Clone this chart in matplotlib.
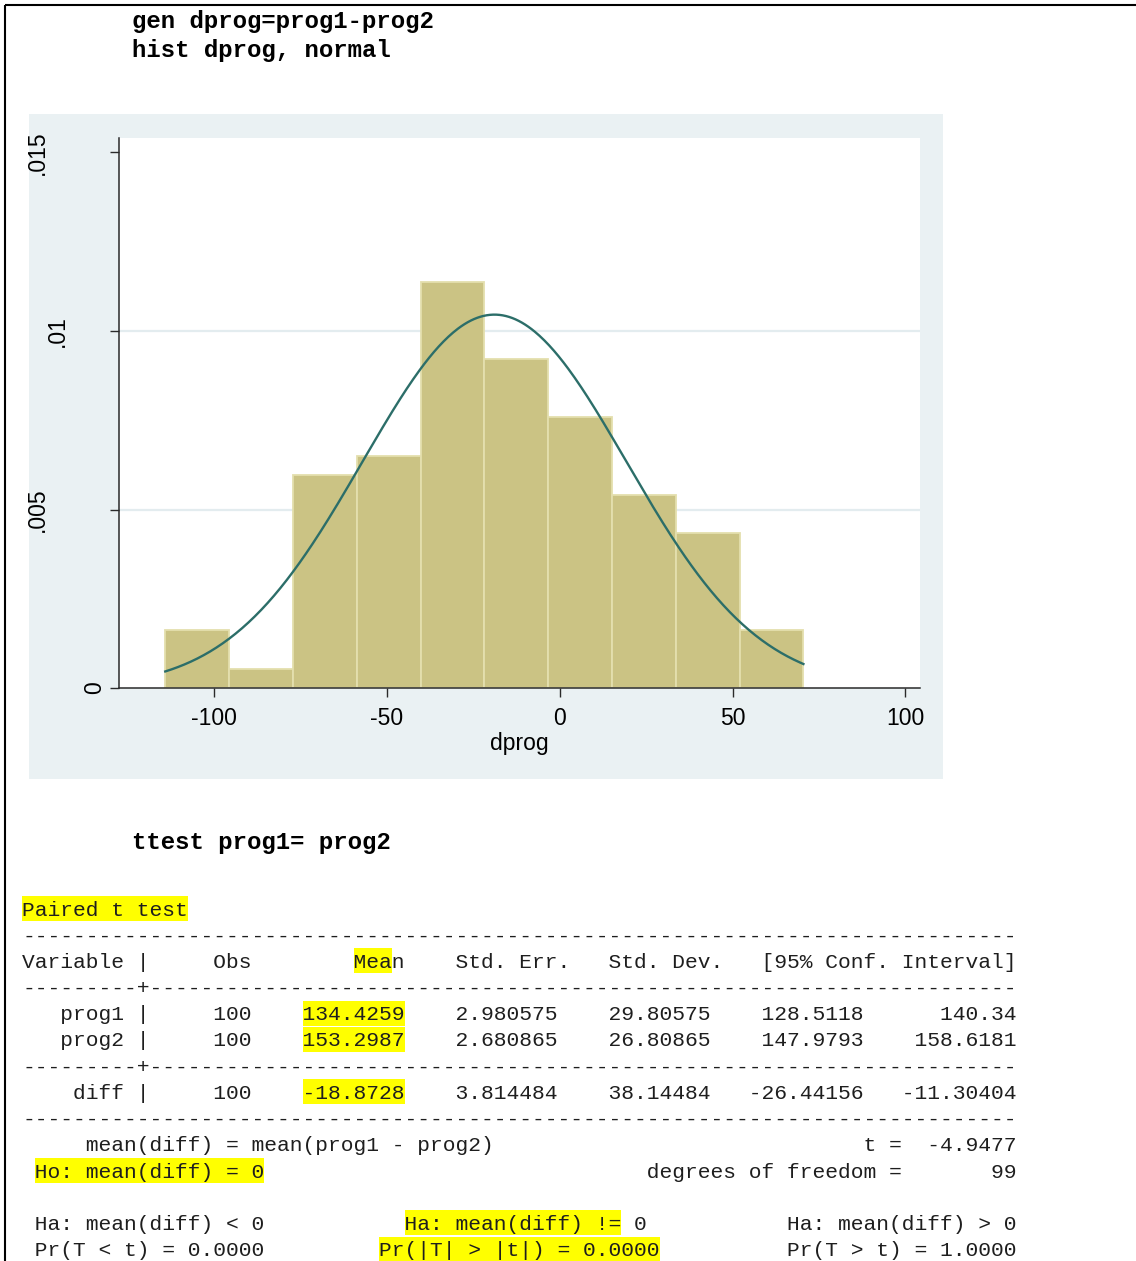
import numpy as np
import matplotlib
matplotlib.use("Agg")
import matplotlib.pyplot as plt
from matplotlib.patches import Rectangle
import matplotlib.transforms as mtransforms

W, H = 1136, 1261
DPI = 100

# ---- histogram of dprog (10 equal-width bins, density scale) ----
bin_start = -114.1
bin_width = 18.46
bin_counts = [3, 1, 11, 12, 21, 17, 14, 10, 8, 3]
n_obs = 100

# normal overlay uses the diff row of the paired t test
diff_mean = -18.8728
diff_sd = 38.14484

xticks = [-100, -50, 0, 50, 100]
xtick_labels = ["-100", "-50", "0", "50", "100"]
yticks = [0, 0.005, 0.01, 0.015]
ytick_labels = ["0", ".005", ".01", ".015"]
ygrid = [0.005, 0.01]
xlabel = "dprog"

# ---- Stata commands ----
cmd_hist = ["gen dprog=prog1-prog2", "hist dprog, normal"]
cmd_ttest = "ttest prog1= prog2"

# ---- paired t test output ----
tt_vars = ["prog1", "prog2", "diff"]
tt_obs = [100, 100, 100]
tt_mean = ["134.4259", "153.2987", "-18.8728"]
tt_se = ["2.980575", "2.680865", "3.814484"]
tt_sd = ["29.80575", "26.80865", "38.14484"]
tt_lo = ["128.5118", "147.9793", "-26.44156"]
tt_hi = ["140.34", "158.6181", "-11.30404"]
t_stat = "-4.9477"
dof = 99
p_lower = "0.0000"
p_two = "0.0000"
p_upper = "1.0000"

# colours
REGION = "#EAF1F3"
GRIDC = "#E3ECEF"
BARC = "#CBC384"
BAREDGE = "#E4DFAE"
CURVE = "#2C6E69"
AXC = "#2A2A2A"
HILITE = "#FFFF00"

fig = plt.figure(figsize=(W / DPI, H / DPI), dpi=DPI, facecolor="white")

# full-figure canvas in pixel coordinates (y grows downward)
canvas = fig.add_axes([0, 0, 1, 1], zorder=0)
canvas.set_xlim(0, W)
canvas.set_ylim(H, 0)
canvas.axis("off")

# page frame
canvas.plot([5, W], [5, 5], color="black", lw=1.5, solid_capstyle="butt")
canvas.plot([5, 5], [5, H], color="black", lw=1.5, solid_capstyle="butt")

# command lines
code_font = dict(family="Liberation Mono", weight="bold", size=17.3, color="black")
for i, line in enumerate(cmd_hist):
    canvas.text(132, 28 + 28.5 * i, line, va="baseline", ha="left", **code_font)
canvas.text(132, 849, cmd_ttest, va="baseline", ha="left", **code_font)

# graph region
canvas.add_patch(Rectangle((28.5, 114), 943 - 28.5, 779 - 114,
                           facecolor=REGION, edgecolor="none"))

# ---- histogram axes ----
px_l, px_r, px_t, px_b = 119, 920, 137.5, 688
ax = fig.add_axes([px_l / W, (H - px_b) / H, (px_r - px_l) / W, (px_b - px_t) / H],
                  zorder=2)
ax.set_facecolor("white")

y_per_px = 0.015 / (688 - 152.5)
x_per_px = 200 / (905.7 - 214.3)
x0_px = 559.7
ax.set_xlim((px_l - x0_px) * x_per_px, (px_r - x0_px) * x_per_px)
ax.set_ylim(0, (px_b - px_t) * y_per_px)

edges = bin_start + bin_width * np.arange(len(bin_counts) + 1)
density = np.array(bin_counts) / (n_obs * bin_width)
for g in ygrid:
    ax.axhline(g, color=GRIDC, lw=1.6, zorder=0.5)
ax.bar(edges[:-1], density, width=bin_width, align="edge",
       color=BARC, edgecolor=BAREDGE, linewidth=1.3, zorder=1)

xs = np.linspace(edges[0], edges[-1], 400)
pdf = np.exp(-0.5 * ((xs - diff_mean) / diff_sd) ** 2) / (diff_sd * np.sqrt(2 * np.pi))
ax.plot(xs, pdf, color=CURVE, lw=1.7, zorder=3)

for s in ["top", "right"]:
    ax.spines[s].set_visible(False)
for s in ["left", "bottom"]:
    ax.spines[s].set_color(AXC)
    ax.spines[s].set_linewidth(1.1)
    ax.spines[s].set_zorder(4)

ax.set_xticks(xticks, labels=xtick_labels)
ax.set_yticks(yticks, labels=[""] * len(yticks))
ax.tick_params(axis="both", direction="out", length=6.5, width=1.0, color=AXC)
ax.tick_params(axis="x", pad=7, labelsize=16.5)
for lab in ax.get_xticklabels():
    lab.set_fontfamily("Liberation Sans")
    lab.set_color("black")
ax.set_xlabel(xlabel, fontsize=16.5, family="Liberation Sans", labelpad=1.5)

# rotated y tick labels, each at its own horizontal position
ylab_x = [101, 43.5, 63.5, 44]
ytrans = mtransforms.blended_transform_factory(canvas.transData, ax.transData)
for yv, lab, xp in zip(yticks, ytick_labels, ylab_x):
    canvas.text(xp, yv, lab, transform=ytrans, rotation=90, rotation_mode="anchor",
                ha="center", va="baseline", fontsize=16.5, family="Liberation Sans",
                zorder=5, clip_on=False)

# ---- t test listing ----
rule = "-" * 78
rule_plus = "-" * 9 + "+" + "-" * 68
header = "Variable |     Obs        Mean    Std. Err.   Std. Dev.   [95% Conf. Interval]"
rows = [f"{v:>8} |{o:>8}{m:>12}{se:>12}{sd:>12}{lo:>12}{hi:>12}"
        for v, o, m, se, sd, lo, hi in zip(tt_vars, tt_obs, tt_mean, tt_se, tt_sd, tt_lo, tt_hi)]
line_t = f"{'     mean(diff) = mean(prog1 - prog2)':<66}t = {t_stat:>8}"
line_ho = f"{' Ho: mean(diff) = 0':<49}degrees of freedom = {dof:>8}"
line_ha = f"{' Ha: mean(diff) < 0':<30}{'Ha: mean(diff) != 0':<30}Ha: mean(diff) > 0"
line_pr = (f"{' Pr(T < t) = ' + p_lower:<28}"
           f"{'Pr(|T| > |t|) = ' + p_two:<32}Pr(T > t) = {p_upper}")

listing = ["Paired t test", rule, header, rule_plus, rows[0], rows[1], rule_plus,
           rows[2], rule, line_t, line_ho, "", line_ha, line_pr]

# (line, first char, end char) ranges marked with a highlighter
marks = [(0, 0, 13), (2, 26, 29), (4, 22, 30), (5, 22, 30), (7, 22, 30),
         (10, 1, 19), (12, 30, 47), (13, 28, 50)]

mono_size = 15.32
x_text = 22
base0 = 915.5
lstep = 26.2

texts = []
for li, line in enumerate(listing):
    if line:
        texts.append(canvas.text(x_text, base0 + lstep * li, line, family="Liberation Mono",
                                 size=mono_size, color="#1E1E1E", va="baseline",
                                 ha="left", zorder=2))

# character cell width as actually rendered (measured on a full-width rule)
renderer = fig.canvas.get_renderer()
probe = canvas.text(0, 0, "M" * 78, family="Liberation Mono", size=mono_size)
cw = probe.get_window_extent(renderer).width / 78.0
probe.remove()

for li, c0, c1 in marks:
    b = base0 + lstep * li
    canvas.add_patch(Rectangle((x_text + c0 * cw, b - 19.5), (c1 - c0) * cw, 25,
                               facecolor=HILITE, edgecolor="none", zorder=1))

fig.savefig("out.png", dpi=DPI, facecolor="white")
